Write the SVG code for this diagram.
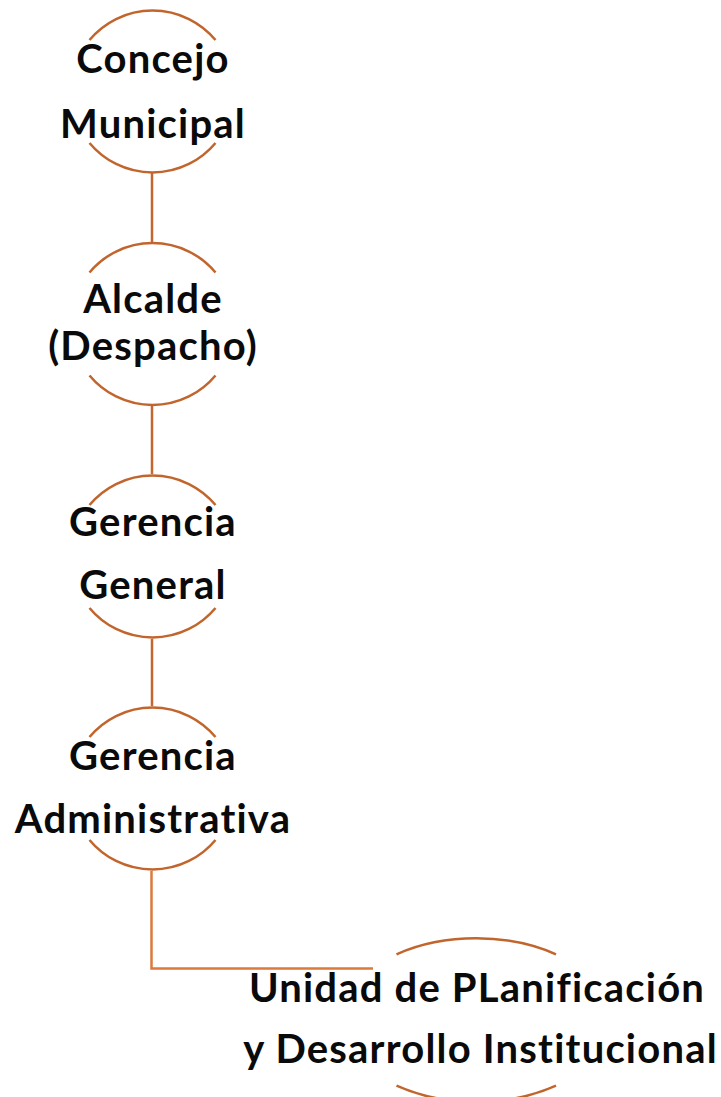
<svg xmlns="http://www.w3.org/2000/svg" width="721" height="1097" viewBox="0 0 721 1097">
<style>
.arc{fill:none;stroke:#C1652D;stroke-width:2.5}
.conn{fill:none;stroke:#C4672F;stroke-width:2.5}
.conn2{fill:none;stroke:#DC7A3C;stroke-width:2.5}
.t{font-family:Lato,"Open Sans",sans-serif;font-weight:700;font-size:40px;letter-spacing:1.2px;font-variant-ligatures:none;font-feature-settings:"liga" 0;fill:#0a0a0a;text-anchor:middle}
</style>
<rect width="721" height="1097" fill="#fff"/>
<g id="connectors">
<line class="conn" x1="152" y1="173" x2="152" y2="242"/>
<line class="conn" x1="152" y1="406" x2="152" y2="474"/>
<line class="conn" x1="152" y1="639" x2="152" y2="706"/>
<polyline class="conn2" points="151.5,871 151.5,968.5 373,968.5"/>
</g>
<g id="n1">
<path class="arc" d="M89.5,40 A82,82 0 0 1 215.5,40"/>
<path class="arc" d="M89.5,143 A82,82 0 0 0 215.5,143"/>
<text class="t" x="153" y="72.7">Concejo</text>
<text class="t" x="153" y="137.7">Municipal</text>
</g>
<g id="n2">
<path class="arc" d="M89.5,272.5 A82,82 0 0 1 215.5,272.5"/>
<path class="arc" d="M89.5,375.5 A82,82 0 0 0 215.5,375.5"/>
<text class="t" x="153" y="313">Alcalde</text>
<text class="t" x="153" y="360">(Despacho)</text>
</g>
<g id="n3">
<path class="arc" d="M89.5,505 A82,82 0 0 1 215.5,505"/>
<path class="arc" d="M89.5,608 A82,82 0 0 0 215.5,608"/>
<text class="t" x="153" y="536">Gerencia</text>
<text class="t" x="153" y="599.3">General</text>
</g>
<g id="n4">
<path class="arc" d="M89.5,737 A82,82 0 0 1 215.5,737"/>
<path class="arc" d="M89.5,840 A82,82 0 0 0 215.5,840"/>
<text class="t" x="153" y="770">Gerencia</text>
<text class="t" x="153" y="833.3">Administrativa</text>
</g>
<g id="n5">
<path class="arc" d="M396.5,954.3 A134,81.7 0 0 1 556,954.3"/>
<path class="arc" d="M396.5,1085.7 A134,81.7 0 0 0 556,1085.7"/>
<text class="t" x="477" y="1001.7">Unidad de PLanificación</text>
<text class="t" x="480.5" y="1063">y Desarrollo Institucional</text>
</g>
</svg>
